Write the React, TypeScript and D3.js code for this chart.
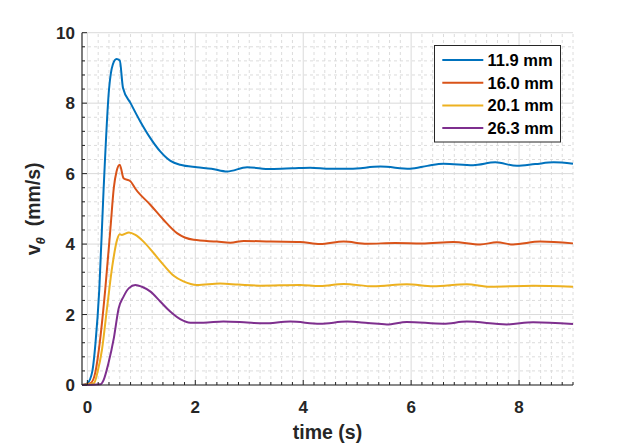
import * as d3 from 'd3';

// readings taken off the plot, time in s, v_theta in mm/s
const blueT = [-0.1, 0, 0.09, 0.15, 0.22, 0.3, 0.4, 0.47, 0.54, 0.6, 0.66, 0.8, 0.98, 1.17, 1.35, 1.54, 1.72, 2.03, 2.3, 2.59, 2.96, 3.4, 3.8, 4.13, 4.5, 4.87, 5.43, 5.98, 6.3, 6.6, 7.15, 7.56, 7.96, 8.3, 8.64, 9];
const blueV = [0, 0.05, 0.38, 1.19, 2.7, 5.54, 8.38, 9.09, 9.25, 9.21, 8.43, 8.0, 7.48, 7.0, 6.63, 6.36, 6.25, 6.18, 6.14, 6.06, 6.18, 6.13, 6.15, 6.17, 6.14, 6.14, 6.2, 6.14, 6.22, 6.28, 6.24, 6.32, 6.22, 6.27, 6.32, 6.28];

const redT = [-0.1, 0.06, 0.15, 0.22, 0.33, 0.43, 0.49, 0.54, 0.6, 0.67, 0.8, 0.89, 1.17, 1.41, 1.66, 1.97, 2.4, 2.65, 2.9, 3.4, 3.94, 4.31, 4.75, 5.18, 5.7, 6.2, 6.78, 7.28, 7.59, 7.89, 8.39, 9];
const redV = [0, 0.05, 0.38, 1.09, 2.7, 4.5, 5.6, 6.06, 6.25, 5.87, 5.78, 5.57, 5.11, 4.69, 4.31, 4.12, 4.07, 4.04, 4.09, 4.07, 4.06, 4.0, 4.07, 4.01, 4.03, 4.02, 4.06, 3.99, 4.05, 3.99, 4.07, 4.02];

const yellowT = [-0.1, 0.12, 0.19, 0.27, 0.36, 0.46, 0.55, 0.6, 0.64, 0.77, 0.89, 1.04, 1.23, 1.41, 1.6, 1.78, 2.03, 2.46, 2.8, 3.2, 3.94, 4.31, 4.75, 5.3, 5.92, 6.41, 7.03, 7.46, 8.26, 9];
const yellowV = [0, 0.05, 0.38, 1.0, 2.13, 3.36, 4.12, 4.28, 4.26, 4.33, 4.26, 4.07, 3.74, 3.41, 3.1, 2.94, 2.84, 2.88, 2.85, 2.82, 2.84, 2.81, 2.87, 2.8, 2.86, 2.8, 2.86, 2.79, 2.82, 2.79];

const purpleT = [-0.1, 0.24, 0.3, 0.39, 0.49, 0.58, 0.67, 0.77, 0.89, 1.01, 1.17, 1.35, 1.54, 1.72, 1.91, 2.15, 2.52, 2.9, 3.27, 3.76, 4.31, 4.81, 5.2, 5.55, 5.92, 6.6, 7.03, 7.77, 8.26, 9];
const purpleV = [0, 0.02, 0.14, 0.62, 1.33, 2.18, 2.51, 2.75, 2.84, 2.79, 2.65, 2.37, 2.08, 1.87, 1.77, 1.77, 1.8, 1.78, 1.75, 1.8, 1.74, 1.8, 1.76, 1.72, 1.79, 1.74, 1.8, 1.72, 1.78, 1.73];

const seriesLabels = ['11.9 mm', '16.0 mm', '20.1 mm', '26.3 mm'];
const seriesT = [blueT, redT, yellowT, purpleT];
const seriesV = [blueV, redV, yellowV, purpleV];
const colors = ['#0072BD', '#D95319', '#EDB120', '#7E2F8E'];

const xTicks = [0, 2, 4, 6, 8];
const yTicks = [0, 2, 4, 6, 8, 10];

const W = 633;
const H = 445;
const font = '"Liberation Sans", Arial, Helvetica, sans-serif';
const ink = '#262626';

export default function App() {
  const x = d3.scaleLinear().domain([-0.1, 9]).range([82, 573]);
  const y = d3.scaleLinear().domain([0, 10]).range([385, 32.7]);

  const xMinor = d3.range(0, 9.001, 0.2).filter(t => Math.abs(t / 2 - Math.round(t / 2)) > 1e-6);
  const yMinor = d3.range(0, 10.001, 0.4).filter(v => Math.abs(v / 2 - Math.round(v / 2)) > 1e-6);

  const line = d3.line<[number, number]>()
    .x(d => x(d[0]))
    .y(d => y(d[1]))
    .curve(d3.curveMonotoneX);

  const [x0, x1] = x.range();
  const [y0, y1] = y.range();

  const legX = 434.5;
  const legY = 45.5;
  const legRow = 22.7;

  return (
    <svg width={W} height={H} style={{ position: 'absolute', left: 0, top: 0, background: '#fff' }} fontFamily={font}>
      <rect width={W} height={H} fill="#fff" />

      {/* minor grid */}
      {xMinor.map(t => (
        <line key={`xm${t}`} x1={x(t)} x2={x(t)} y1={y0} y2={y1} stroke="#dcdcdc" strokeWidth={1} strokeDasharray="3,3" />
      ))}
      {yMinor.map(v => (
        <line key={`ym${v}`} x1={x0} x2={x1} y1={y(v)} y2={y(v)} stroke="#dcdcdc" strokeWidth={1} strokeDasharray="3,3" />
      ))}
      {/* major grid */}
      {xTicks.map(t => (
        <line key={`xg${t}`} x1={x(t)} x2={x(t)} y1={y0} y2={y1} stroke="#dadada" strokeWidth={1} />
      ))}
      {yTicks.map(v => (
        <line key={`yg${v}`} x1={x0} x2={x1} y1={y(v)} y2={y(v)} stroke="#dadada" strokeWidth={1} />
      ))}

      {/* data */}
      {seriesT.map((ts, i) => (
        <path key={seriesLabels[i]} d={line(ts.map((t, j) => [t, seriesV[i][j]] as [number, number])) || undefined}
          fill="none" stroke={colors[i]} strokeWidth={2} strokeLinejoin="round" />
      ))}

      {/* axes */}
      <line x1={x0} x2={x1} y1={y0} y2={y0} stroke={ink} strokeWidth={1.2} />
      <line x1={x0} x2={x0} y1={y0} y2={y1} stroke={ink} strokeWidth={1.2} />
      {xTicks.map(t => (
        <line key={`xt${t}`} x1={x(t)} x2={x(t)} y1={y0} y2={y0 - 5} stroke={ink} />
      ))}
      {xMinor.map(t => (
        <line key={`xmt${t}`} x1={x(t)} x2={x(t)} y1={y0} y2={y0 - 3} stroke={ink} />
      ))}
      {yTicks.map(v => (
        <line key={`yt${v}`} x1={x0} x2={x0 + 5} y1={y(v)} y2={y(v)} stroke={ink} />
      ))}
      {yMinor.map(v => (
        <line key={`ymt${v}`} x1={x0} x2={x0 + 3} y1={y(v)} y2={y(v)} stroke={ink} />
      ))}

      {xTicks.map(t => (
        <text key={`xl${t}`} x={x(t)} y={413} textAnchor="middle" fontSize={17} fontWeight="bold" fill={ink}>{t}</text>
      ))}
      {yTicks.map(v => (
        <text key={`yl${v}`} x={75} y={y(v)} dy="0.36em" textAnchor="end" fontSize={17} fontWeight="bold" fill={ink}>{v}</text>
      ))}

      <text x={(x0 + x1) / 2} y={439} textAnchor="middle" fontSize={19.5} fontWeight="bold" fill={ink}>time (s)</text>
      <text transform={`translate(40, ${(y0 + y1) / 2}) rotate(-90)`} textAnchor="middle" fontSize={19.5} fontWeight="bold" fill={ink}>
        v<tspan fontSize={13} fontStyle="italic" dy={5}>θ</tspan><tspan dy={-5}>{'\u00a0 (mm/s)'}</tspan>
      </text>

      {/* legend */}
      <rect x={legX} y={legY} width={126} height={96.5} fill="#fff" stroke="#262626" strokeWidth={1} />
      {seriesLabels.map((lab, i) => {
        const cy = 60 + i * legRow;
        return (
          <g key={lab}>
            <line x1={442.3} x2={483.3} y1={cy} y2={cy} stroke={colors[i]} strokeWidth={2} />
            <text x={487.5} y={cy} dy="0.36em" fontSize={16.5} fontWeight="bold" fill="#000">{lab}</text>
          </g>
        );
      })}
    </svg>
  );
}
